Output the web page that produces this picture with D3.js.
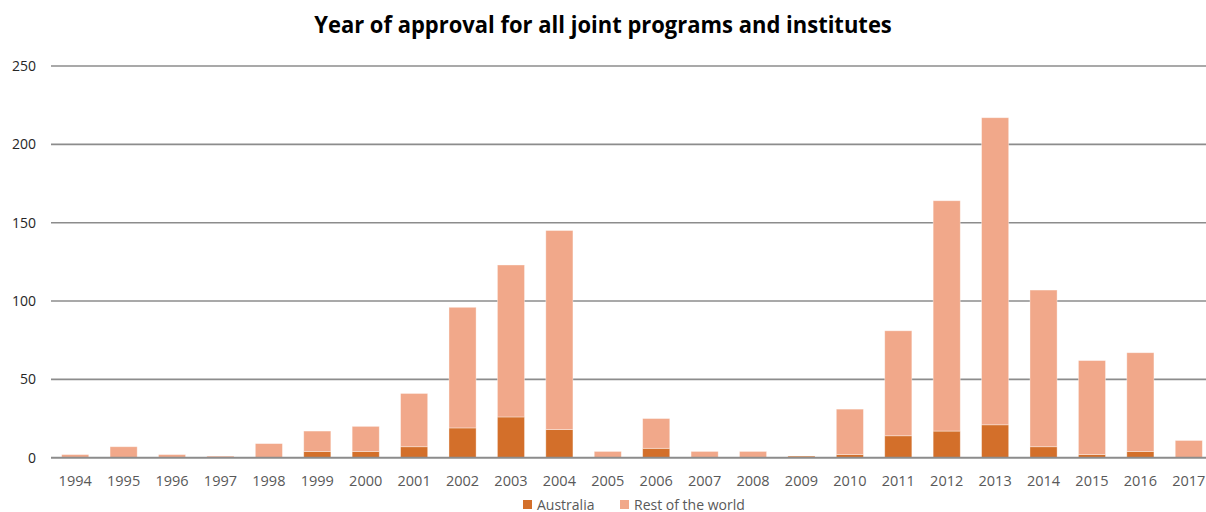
<!DOCTYPE html>
<html>
<head>
<meta charset="utf-8">
<script src="https://cdn.jsdelivr.net/npm/d3@7"></script>
<style>
  html, body { margin: 0; padding: 0; background: #fff; }
  svg { display: block; }
</style>
</head>
<body>
<svg id="chart" width="1206" height="512"></svg>
<script>
// Approvals per year, split by partner country group
const years = ["1994","1995","1996","1997","1998","1999","2000","2001","2002","2003","2004","2005",
               "2006","2007","2008","2009","2010","2011","2012","2013","2014","2015","2016","2017"];
const australia   = [0, 0, 0, 0, 0, 4, 4, 7, 19, 26, 18, 0, 6, 0, 0, 1, 2, 14, 17, 21, 7, 2, 4, 0];
const restOfWorld = [2, 7, 2, 1, 9, 13, 16, 34, 77, 97, 127, 4, 19, 4, 4, 0, 29, 67, 147, 196, 100, 60, 63, 11];
const yTicks = [0, 50, 100, 150, 200, 250];
const seriesNames = ["Australia", "Rest of the world"];
const seriesColors = ["#D36F2A", "#F1A88A"];

const svg = d3.select("#chart");
const W = 1206, H = 512;
const plotLeft = 51, plotRight = 1213, plotTop = 66, plotBottom = 457.7;

const x = d3.scaleBand().domain(years).range([plotLeft, plotRight])
  .paddingInner(0.44).paddingOuter(0.22);
const y = d3.scaleLinear().domain([0, 250]).range([plotBottom, plotTop]);

// Title
const title = svg.append("text")
  .attr("x", W / 2).attr("y", 33)
  .attr("text-anchor", "middle")
  .attr("font-family", "'Open Sans', sans-serif")
  .attr("font-weight", "bold")
  .attr("font-size", 24)
  .attr("fill", "#000")
  .text("Year of approval for all joint programs and institutes");
// Fit the title to its target width
{
  const w = title.node().getComputedTextLength();
  const target = 578;
  const s = target / w;
  title.attr("transform", `translate(${W / 2},0) scale(${s},1) translate(${-W / 2},0)`);
}

// Horizontal gridlines
svg.append("g").selectAll("line").data(yTicks).join("line")
  .attr("x1", plotLeft).attr("x2", W)
  .attr("y1", d => y(d)).attr("y2", d => y(d))
  .attr("stroke", "#8C8C8C").attr("stroke-width", 1.6);

// Y axis labels
svg.append("g").selectAll("text").data(yTicks).join("text")
  .attr("x", 36).attr("y", d => y(d)).attr("dy", "0.36em")
  .attr("text-anchor", "end")
  .attr("font-family", "'Open Sans', sans-serif")
  .attr("font-size", 14)
  .attr("fill", "#262626")
  .text(d => d);

// Stacked bars
const rows = years.map((yr, i) => ({ year: yr, a: australia[i], r: restOfWorld[i] }));
const stack = d3.stack().keys(["a", "r"])(rows);

svg.append("g").selectAll("g").data(stack).join("g")
  .attr("fill", (d, i) => seriesColors[i])
  .selectAll("rect").data(d => d).join("rect")
  .attr("x", d => x(d.data.year))
  .attr("width", x.bandwidth())
  .attr("y", d => y(d[1]))
  .attr("height", d => Math.max(0, y(d[0]) - y(d[1])))
  .attr("stroke", "#fff").attr("stroke-opacity", 0.45).attr("stroke-width", 0.8);

// Baseline redrawn above bars
svg.append("line")
  .attr("x1", plotLeft).attr("x2", W)
  .attr("y1", y(0)).attr("y2", y(0))
  .attr("stroke", "#8C8C8C").attr("stroke-width", 1.8);

// X axis labels
svg.append("g").selectAll("text").data(years).join("text")
  .attr("x", d => x(d) + x.bandwidth() / 2)
  .attr("y", 485.5)
  .attr("text-anchor", "middle")
  .attr("font-family", "'Open Sans', sans-serif")
  .attr("font-size", 14.5)
  .attr("fill", "#595959")
  .text(d => d);

// Legend
const legendItems = [
  { name: seriesNames[0], color: seriesColors[0], x: 523 },
  { name: seriesNames[1], color: seriesColors[1], x: 620 }
];
const lg = svg.append("g").selectAll("g").data(legendItems).join("g")
  .attr("transform", d => `translate(${d.x},500)`);
lg.append("rect").attr("width", 9).attr("height", 9).attr("fill", d => d.color);
lg.append("text")
  .attr("x", 14).attr("y", 9.5)
  .attr("font-family", "'Open Sans', sans-serif")
  .attr("font-size", 14)
  .attr("fill", "#595959")
  .text(d => d.name);
</script>
</body>
</html>
